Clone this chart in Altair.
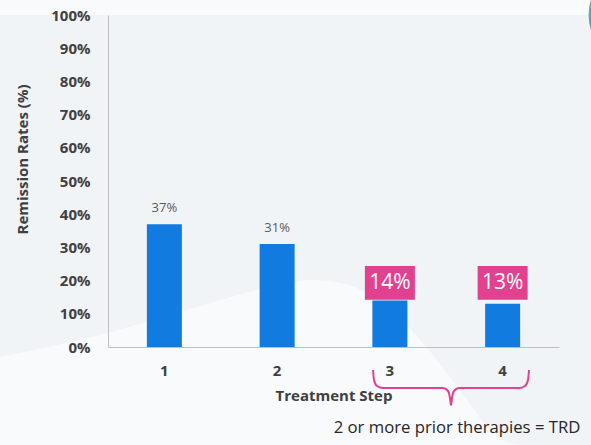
import altair as alt
import pandas as pd

# ---- data ----
steps = ["1", "2", "3", "4"]
rates = [37, 31, 14, 13]
rate_labels = ["37%", "31%", "14%", "13%"]
highlight = [False, False, True, True]
y_ticks = [0, 10, 20, 30, 40, 50, 60, 70, 80, 90, 100]
footnote = "2 or more prior therapies = TRD"

# decorative shapes (pixel outlines, absolute page coordinates)
wave_x = [0, 100, 200, 270, 310, 345, 380, 420, 460, 495, 520, 591]
wave_y = [357, 335, 306, 287, 280, 284, 302, 340, 390, 435, 445, 445]
brace_x = [373, 374, 377, 383, 443, 448, 450, 451, 452, 454, 459, 519, 525, 528, 529]
brace_y = [370, 380, 386, 388, 388, 391, 398, 405, 398, 391, 388, 388, 386, 380, 370]

PL, PT = 108, 15   # plot origin on page
W, H = 451, 332

df = pd.DataFrame({"step": steps, "rate": rates, "label": rate_labels, "hl": highlight})
wave = pd.DataFrame({"px": [v - PL for v in wave_x], "py": [v - PT for v in wave_y]})
brace = pd.DataFrame({"px": [v - PL for v in brace_x], "py": [v - PT for v in brace_y]})

dark = "#404040"
pink = "#E2418F"
blue = "#127BDF"

# gray region above the wave (page background is the lighter tone)
bg = alt.Chart(wave).mark_area(color="#F1F4F6", interpolate="monotone").encode(
    x=alt.X("px:Q", scale=None, axis=None),
    y=alt.Y("py:Q", scale=None, axis=None),
)

circle = alt.Chart(pd.DataFrame({"c": [1]})).mark_circle(
    size=10568, color="#1DC3BF", opacity=1
).encode(x=alt.value(640 - PL), y=alt.value(15 - PT))

x_axis = alt.Axis(
    labelAngle=0, ticks=False, domainColor="#BFBFBF", labelFontWeight="bold",
    labelFontSize=15, labelColor=dark, labelPadding=16,
    title="Treatment Step", titleFontSize=15, titleFontWeight="bold",
    titleColor=dark, titlePadding=10, zindex=1,
)
x_scale = alt.Scale(paddingInner=0, paddingOuter=0)
y_axis = alt.Axis(
    values=y_ticks, labelExpr="datum.value + '%'", grid=False, ticks=False,
    domainColor="#BFBFBF", labelFontWeight="bold", labelFontSize=15,
    labelColor=dark, labelPadding=18, labelOverlap=False, tickCount=11,
    title="Remission Rates (%)", titleFontSize=15, titleFontWeight="bold",
    titleColor=dark, titleAngle=270, titleX=-86, titleY=144,
    titleAlign="center", titleBaseline="middle", zindex=1,
)
y_scale = alt.Scale(domain=[0, 100], nice=False)

x_enc = alt.X("step:O", scale=x_scale, axis=x_axis)
y_enc = alt.Y("rate:Q", scale=y_scale, axis=y_axis)

base = alt.Chart(df)
bars = base.mark_bar(size=35, color=blue).encode(x=x_enc, y=y_enc)
plain_labels = base.transform_filter("!datum.hl").mark_text(
    fontSize=13, color="#595959", dy=-16, baseline="middle"
).encode(x=x_enc, y=y_enc, text="label:N")
boxes = base.transform_filter("datum.hl").mark_bar(size=50, color=pink).encode(
    x=x_enc,
    y=alt.Y(datum=24.4, scale=y_scale, axis=y_axis),
    y2=alt.datum(14.2),
)
box_text = base.transform_filter("datum.hl").mark_text(
    fontSize=21, color="white", baseline="middle"
).encode(x=x_enc, y=alt.Y(datum=19.3, scale=y_scale, axis=y_axis), text="label:N")

main = alt.layer(bars, plain_labels, boxes, box_text)

brace_line = alt.Chart(brace).mark_line(
    color=pink, strokeWidth=2, interpolate="monotone"
).encode(
    x=alt.X("px:Q", scale=None, axis=None),
    y=alt.Y("py:Q", scale=None, axis=None),
)

note = alt.Chart(pd.DataFrame({"t": [footnote]})).mark_text(
    fontSize=16.7, color="#262626", baseline="middle", align="center"
).encode(x=alt.value(457 - PL), y=alt.value(428 - PT), text="t:N")

chart = alt.layer(bg, circle, main, brace_line, note).resolve_scale(
    x="independent", y="independent"
).properties(
    width=W, height=H,
    autosize="none",
    padding={"left": PL, "top": PT, "right": 591 - PL - W, "bottom": 445 - PT - H},
    background="#F9FAFB",
).configure(font="Open Sans").configure_view(stroke=None)

chart.save("out.html", embed_options={"renderer": "svg", "actions": False})
